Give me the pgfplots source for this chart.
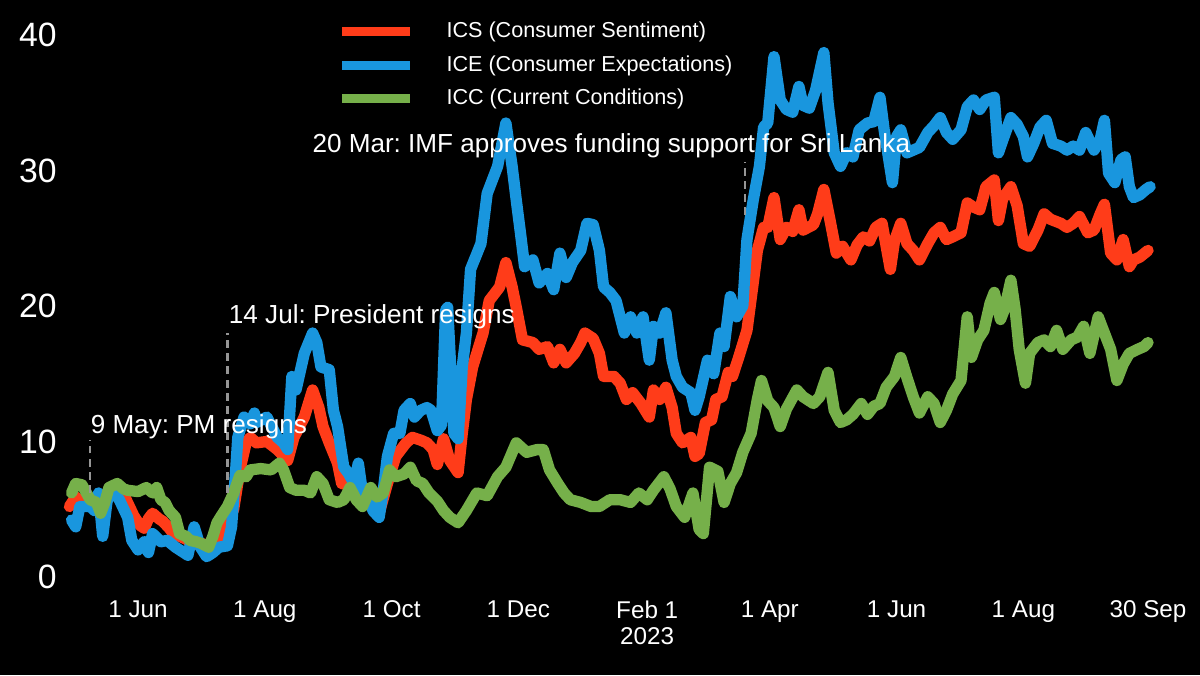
\documentclass[border=0pt]{standalone}
\usepackage{fontspec}
\setmainfont{Liberation Sans}
\usepackage{pgfplots}
\pgfplotsset{compat=1.18}
\definecolor{csred}{RGB}{255,60,25}
\definecolor{ceblue}{RGB}{25,150,222}
\definecolor{ccgreen}{RGB}{118,176,74}
\definecolor{ann}{RGB}{150,150,150}
\frenchspacing
\begin{document}
\begin{tikzpicture}
\fill[black] (0,0) rectangle (16cm,9cm);
\begin{axis}[
 at={(0.843cm,1.307cm)}, anchor=south west,
 scale only axis, width=14.575cm, height=7.227cm,
 xmin=-36, xmax=490, ymin=0, ymax=40,
 clip=false,
 axis line style={draw=none},
 major tick length=0pt,
 ytick={0,10,20,30,40},
 xtick={0,61,122,183,245,304,365,426,486},
 xticklabels={1 Jun,1 Aug,1 Oct,1 Dec,{Feb 1\\2023},1 Apr,1 Jun,1 Aug,30 Sep},
 /pgf/number format/assume math mode=true,
 yticklabel style={font=\fontsize{12.8}{14}\selectfont, text=white, anchor=east, inner sep=0pt, xshift=-2.3pt},
 xticklabel style={font=\fontsize{9.2}{10}\selectfont, text=white, anchor=north, inner sep=0pt, yshift=-8.7pt, align=center},
 legend style={at={(axis cs:95.8,41.0)}, anchor=north west, draw=none, fill=none, inner sep=0pt,
   font=\fontsize{8.2}{9}\selectfont, text=white, row sep=5.1pt,
   nodes={inner sep=0pt, text height=6pt, text depth=1.6pt},
   /tikz/every odd column/.append style={column sep=12.1pt}},
 legend cell align=left,
 legend image code/.code={\draw[line width=3.4pt, line cap=butt] (0pt,0pt) -- (25.8pt,0pt);},
 every axis plot/.append style={line width=4.3pt, line join=round, line cap=round},
]
\addlegendimage{csred}
\addlegendentry{ICS (Consumer Sentiment)}
\addlegendimage{ceblue}
\addlegendentry{ICE (Consumer Expectations)}
\addlegendimage{ccgreen}
\addlegendentry{ICC (Current Conditions)}

% ICS
\addplot[csred, forget plot] coordinates {
(-33,5.2) (-30,5.9) (-27,5.4) (-23,5.5) (-19,5.0) (-14,6.0) (-10,6.6) (-6,5.8) (-2,4.5) (1,3.8) (3,3.6) (5,4.3) (7,4.7) (10,4.3) (12,4.1) (15,3.6) (17,3.2) (20,3.0) (23,2.8) (25,2.6) (28,2.4) (30,2.5) (34,2.3) (37,2.6) (40,3.0) (43,3.9) (46,5.0) (49,7.9) (52,9.9) (54,10.3) (57,9.9) (62,10.0) (67,9.4) (72,8.6) (75,10.3) (80,11.8) (84,13.8) (87,12.5) (89,11.1) (92,9.9) (96,8.4) (98,6.9) (101,6.8) (104,6.4) (108,6.4) (113,5.5) (116,4.7) (120,6.9) (124,8.9) (129,9.9) (132,10.3) (136,10.1) (139,9.9) (142,9.4) (144,8.3) (147,10.2) (150,8.6) (154,7.7) (156,10.6) (158,13.1) (161,15.5) (166,18.0) (169,20.4) (174,21.4) (177,23.2) (180,21.4) (182,19.9) (185,17.5) (190,17.3) (193,16.8) (197,17.0) (200,15.8) (203,16.8) (206,15.8) (210,16.5) (213,17.3) (215,18.0) (219,17.6) (222,16.5) (224,14.8) (229,14.8) (232,14.3) (235,13.1) (238,13.6) (242,12.8) (246,11.8) (248,13.8) (251,13.1) (254,14.0) (257,12.5) (259,10.6) (262,9.9) (266,10.3) (268,8.9) (270,9.1) (273,11.4) (276,11.6) (278,13.1) (281,13.3) (284,15.1) (286,14.8) (289,16.2) (293,18.2) (296,21.7) (298,24.1) (301,25.8) (303,25.8) (306,28.0) (309,24.9) (312,25.8) (315,25.5) (318,27.1) (320,25.6) (325,26.0) (327,26.8) (330,28.6) (333,26.3) (336,23.9) (339,24.4) (343,23.4) (346,24.5) (349,25.1) (352,24.8) (355,25.8) (358,26.1) (362,22.7) (364,24.8) (367,26.1) (370,24.6) (373,24.1) (376,23.4) (380,24.6) (383,25.4) (386,25.8) (389,24.9) (392,25.1) (396,25.4) (399,27.6) (402,27.3) (405,27.1) (408,28.8) (412,29.3) (414,26.3) (416,27.9) (420,28.8) (423,27.4) (426,24.6) (429,24.4) (433,25.6) (436,26.8) (439,26.4) (444,26.1) (447,25.8) (450,26.1) (453,26.6) (457,25.4) (460,25.6) (463,26.8) (465,27.5) (468,23.9) (471,23.4) (474,24.9) (477,22.9) (479,23.4) (482,23.6) (486,24.1)
};
% ICE
\addplot[ceblue, forget plot] coordinates {
(-32,4.2) (-30,3.7) (-28,5.2) (-23,5.2) (-21,4.9) (-19,6.2) (-17,3.0) (-15,5.5) (-13,6.6) (-9,5.7) (-5,4.4) (-3,2.7) (0,2.0) (3,2.6) (5,1.8) (7,3.2) (11,2.6) (14,2.7) (18,2.2) (20,2.0) (24,1.6) (27,3.7) (30,2.2) (33,1.5) (36,1.8) (39,2.2) (43,2.3) (45,3.7) (47,7.9) (48,10.3) (51,11.8) (54,11.3) (56,12.1) (57,11.4) (62,11.8) (67,10.3) (70,9.9) (72,9.4) (74,14.8) (76,13.8) (80,16.5) (84,18.0) (86,17.3) (88,15.5) (92,15.3) (94,12.3) (96,11.1) (99,8.1) (101,7.7) (104,6.9) (106,8.4) (108,6.2) (111,6.2) (113,4.9) (116,4.4) (118,6.4) (120,8.9) (123,10.6) (126,10.6) (128,12.3) (131,12.8) (133,11.8) (136,12.3) (139,12.5) (141,12.3) (144,10.8) (146,11.2) (148,19.7) (149,19.9) (152,10.6) (154,10.2) (156,15.5) (158,18.0) (160,22.7) (165,24.6) (168,28.3) (173,30.3) (177,33.5) (180,30.3) (182,27.8) (184,25.4) (186,22.9) (190,23.4) (193,21.7) (197,22.4) (200,21.2) (203,23.9) (206,22.1) (209,23.2) (213,24.1) (216,26.1) (219,26.0) (222,24.1) (224,21.4) (227,21.0) (230,20.4) (234,18.0) (237,19.2) (240,18.0) (243,19.2) (246,16.0) (248,18.5) (251,18.0) (254,19.5) (257,16.0) (259,14.8) (262,14.0) (266,13.6) (268,12.3) (270,13.3) (274,16.0) (277,15.0) (280,18.0) (282,17.0) (285,20.7) (288,19.2) (291,20.0) (293,24.9) (296,27.8) (299,30.3) (301,33.2) (303,33.5) (306,38.4) (309,35.2) (312,34.5) (315,34.3) (318,36.2) (320,34.8) (323,34.6) (326,35.9) (330,38.7) (332,35.0) (335,31.3) (338,30.3) (341,31.3) (344,31.0) (347,33.0) (351,33.5) (354,33.6) (357,35.4) (359,33.0) (363,29.1) (365,32.5) (367,33.0) (370,31.3) (373,31.5) (376,31.7) (380,32.8) (383,33.3) (386,33.9) (389,32.8) (392,32.3) (396,33.0) (399,34.7) (402,35.2) (405,34.5) (408,35.2) (412,35.4) (414,31.3) (416,32.2) (420,33.9) (423,33.4) (426,32.5) (428,31.0) (431,32.0) (434,33.2) (437,33.7) (440,32.0) (444,31.8) (447,31.5) (450,31.8) (453,31.5) (456,32.8) (460,31.5) (463,32.3) (465,33.7) (467,29.8) (470,29.1) (473,30.8) (475,31.0) (477,28.8) (479,28.0) (482,28.2) (485,28.6) (487,28.8)
};
% ICC
\addplot[ccgreen, forget plot] coordinates {
(-32,6.2) (-30,6.9) (-27,6.8) (-23,5.7) (-20,5.5) (-18,4.7) (-16,5.5) (-14,6.6) (-10,6.9) (-7,6.5) (-5,6.4) (0,6.3) (4,6.6) (7,6.2) (9,6.6) (11,5.7) (13,5.5) (15,4.9) (18,4.4) (20,3.2) (23,3.0) (25,2.7) (28,2.6) (30,2.5) (34,2.2) (36,3.0) (38,4.0) (40,4.5) (43,5.2) (46,6.2) (49,7.5) (52,7.4) (54,7.9) (59,8.0) (64,7.9) (68,8.4) (70,7.9) (73,6.6) (76,6.4) (80,6.4) (83,6.2) (86,7.4) (89,6.9) (92,5.7) (96,5.5) (99,5.7) (102,6.6) (105,5.7) (108,5.2) (112,6.6) (115,5.9) (118,6.2) (121,7.9) (124,7.4) (128,7.6) (131,8.1) (134,7.1) (137,6.9) (140,6.2) (144,5.6) (147,4.9) (150,4.4) (154,4.0) (158,4.9) (163,6.2) (168,6.0) (173,7.4) (177,8.1) (182,9.9) (187,9.2) (192,9.4) (195,9.4) (198,7.9) (202,6.9) (205,6.2) (208,5.7) (213,5.5) (218,5.2) (222,5.2) (227,5.7) (232,5.7) (237,5.5) (241,6.2) (245,5.7) (248,6.4) (253,7.4) (256,6.5) (259,5.2) (263,4.4) (267,6.2) (270,3.5) (272,3.2) (275,8.1) (279,7.8) (282,5.5) (285,6.9) (288,7.7) (291,9.2) (295,10.6) (298,13.1) (300,14.5) (303,13.0) (306,12.5) (309,11.1) (312,12.4) (317,13.8) (320,13.3) (323,13.0) (325,12.8) (328,13.3) (332,15.1) (335,12.3) (338,11.4) (341,11.6) (344,12.0) (348,12.8) (351,12.0) (354,12.6) (357,12.8) (360,14.0) (364,14.8) (367,16.2) (370,14.7) (373,13.3) (376,12.1) (380,13.3) (383,12.8) (386,11.4) (389,12.3) (392,13.5) (396,14.5) (399,19.2) (401,16.2) (404,17.5) (407,18.2) (410,20.2) (412,21.0) (415,19.0) (417,19.8) (420,21.9) (422,19.8) (424,16.8) (427,14.3) (429,16.5) (433,17.3) (436,17.5) (439,17.0) (442,18.2) (445,16.8) (449,17.5) (452,17.7) (455,18.5) (458,16.5) (462,19.2) (465,18.0) (468,16.8) (471,14.5) (474,15.7) (477,16.5) (481,16.8) (484,17.0) (486,17.3)
};
% event markers
\addplot[ann, forget plot, line width=0.9pt, line cap=butt, dash pattern=on 3pt off 2pt] coordinates {(-23,6.2) (-23,10.1)};
\addplot[ann, forget plot, line width=0.9pt, line cap=butt, dash pattern=on 3pt off 2pt] coordinates {(43,6.2) (43,18.0)};
\addplot[ann, forget plot, line width=0.9pt, line cap=butt, dash pattern=on 3pt off 2pt] coordinates {(292,26.7) (292,30.6)};
\node[anchor=base west, inner sep=0pt, text=white, font=\fontsize{9.9}{11}\selectfont] at (axis cs:-23,10.6) {9 May: PM resigns};
\node[anchor=base west, inner sep=0pt, text=white, font=\fontsize{9.9}{11}\selectfont] at (axis cs:43.5,18.7) {14 Jul: President resigns};
\node[anchor=base west, inner sep=0pt, text=white, font=\fontsize{9.9}{11}\selectfont] at (axis cs:83.7,31.3) {20 Mar: IMF approves funding support for Sri Lanka};
\end{axis}
\pgfresetboundingbox
\path[use as bounding box] (0,0) rectangle (16cm,9cm);
\end{tikzpicture}
\end{document}
